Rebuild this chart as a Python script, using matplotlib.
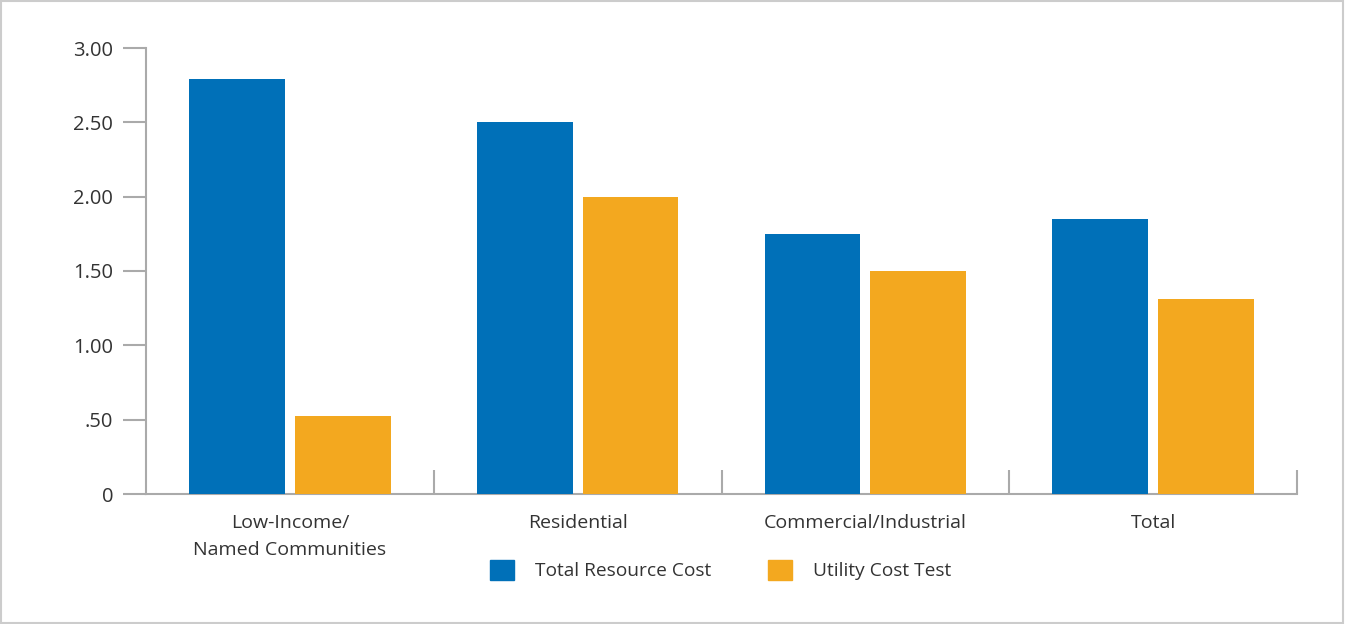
import matplotlib.pyplot as plt
import matplotlib.patches as mpatches
import numpy as np

categories = ['Low-Income/\nNamed Communities', 'Residential', 'Commercial/Industrial', 'Total']
total_resource_cost = [2.79, 2.50, 1.75, 1.85]
utility_cost_test = [0.525, 2.00, 1.50, 1.31]
series_names = ['Total Resource Cost', 'Utility Cost Test']
ytick_vals = [0, 0.5, 1.0, 1.5, 2.0, 2.5, 3.0]
ytick_labels = ['0', '.50', '1.00', '1.50', '2.00', '2.50', '3.00']

blue = '#0070b8'
orange = '#f3a81f'
grey = '#aaaaaa'
txt = '#333333'
fs = 14.0

plt.rcParams['font.family'] = ['Open Sans', 'DejaVu Sans']

fig = plt.figure(figsize=(13.45, 6.24), dpi=100)
ax = fig.add_axes([146/1345, 1 - 494/624, (1297 - 146)/1345, (494 - 48)/624])

x = np.arange(len(categories))
w = 0.333
off = 0.184
ax.bar(x - off, total_resource_cost, w, color=blue, label=series_names[0], zorder=3)
ax.bar(x + off, utility_cost_test, w, color=orange, label=series_names[1], zorder=3)

ax.set_xlim(-0.5, len(categories) - 0.5)
ax.set_ylim(0, 3)

for s in ['top', 'right']:
    ax.spines[s].set_visible(False)
for s in ['left', 'bottom']:
    ax.spines[s].set_color(grey)
    ax.spines[s].set_linewidth(1.5)

ax.set_yticks(ytick_vals)
ax.set_yticklabels(ytick_labels)
ax.tick_params(axis='y', length=16.5, width=1.5, color=grey, pad=7,
               labelsize=14.5, labelcolor=txt)

# category labels in the middle, separator ticks between groups
ax.set_xticks(x)
ax.set_xticklabels(categories)
ax.tick_params(axis='x', which='major', length=0, pad=14.5, labelsize=fs, labelcolor=txt)
ax.set_xticks(x + 0.5, minor=True)
ax.tick_params(axis='x', which='minor', direction='in', length=17, width=1.5, color=grey)
for lbl in ax.get_xticklabels():
    lbl.set_linespacing(1.6)

handles = [mpatches.Patch(color=blue), mpatches.Patch(color=orange)]
fig.legend(handles, series_names, loc='center', bbox_to_anchor=(721/1345, 1 - 570/624),
           ncol=2, frameon=False, fontsize=13.8, labelcolor=txt,
           handlelength=1.25, handleheight=1.25, handletextpad=1.1, columnspacing=2.95)

# light frame round the whole picture
fig.patches.append(mpatches.Rectangle((0.0005, 0.001), 0.998, 0.997, transform=fig.transFigure,
                                      fill=False, edgecolor='#cccccc', linewidth=1.5))

fig.savefig('out.png', dpi=100)
